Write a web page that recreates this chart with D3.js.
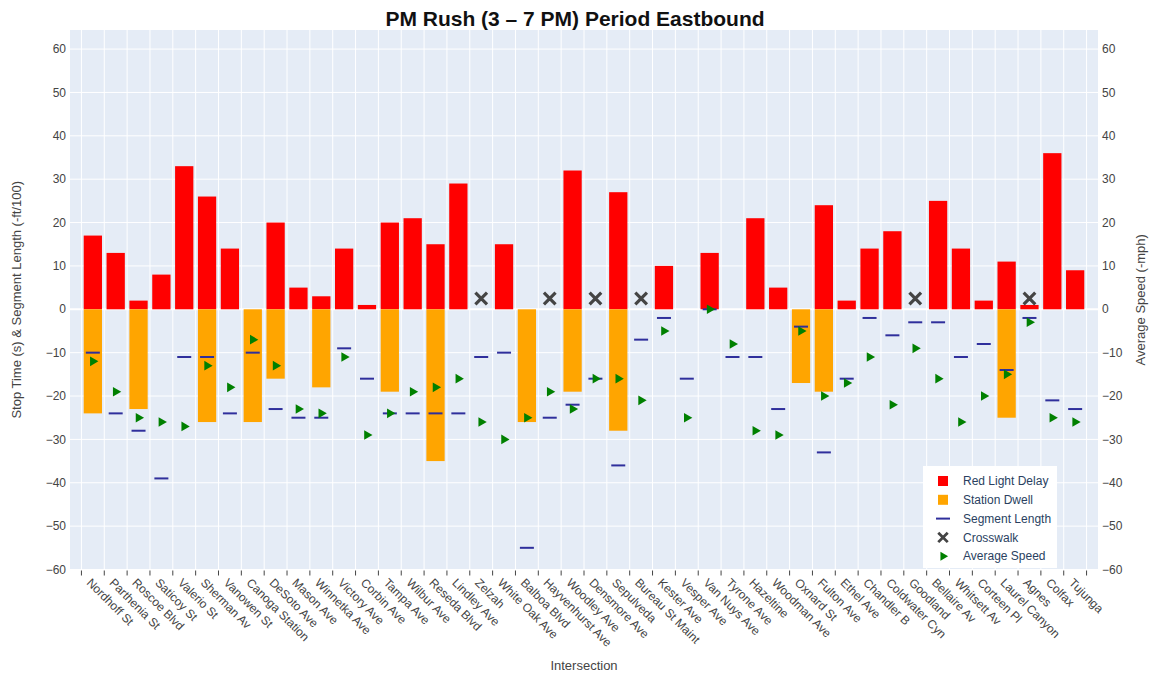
<!DOCTYPE html>
<html>
<head>
<meta charset="utf-8">
<script src="https://cdn.jsdelivr.net/npm/d3@7"></script>
<style>
  body { margin: 0; background: #fff; }
  svg { font-family: "Liberation Sans", Arial, sans-serif; }
</style>
</head>
<body>
<div id="chart"></div>
<script>
// data
const intersections = [
  "Nordhoff St", "Parthenia St", "Roscoe Blvd", "Saticoy St", "Valerio St",
  "Sherman Av", "Vanowen St", "Canoga Station", "DeSoto Ave", "Mason Ave",
  "Winnetka Ave", "Victory Ave", "Corbin Ave", "Tampa Ave", "Wilbur Ave",
  "Reseda Blvd", "Lindley Ave", "Zelzah", "White Oak Ave", "Balboa Blvd",
  "Hayvenhurst Ave", "Woodley Ave", "Densmore Ave", "Sepulveda", "Bureau St Maint",
  "Kester Ave", "Vesper Ave", "Van Nuys Ave", "Tyrone Ave", "Hazeltine",
  "Woodman Ave", "Oxnard St", "Fulton Ave", "Ethel Ave", "Chandler B",
  "Coldwater Cyn", "Goodland", "Bellaire Av", "Whitsett Av", "Corteen Pl",
  "Laurel Canyon", "Agnes", "Colfax", "Tujunga"
];

const redLightDelay = [
  17, 13, 2, 8, 33, 26, 14, 0, 20, 5,
  3, 14, 1, 20, 21, 15, 29, 0, 15, 0,
  0, 32, 0, 27, 0, 10, 0, 13, 0, 21,
  5, 0, 24, 2, 14, 18, 0, 25, 14, 2,
  11, 1, 36, 9
];

const stationDwell = [
  -24, 0, -23, 0, 0, -26, 0, -26, -16, 0,
  -18, 0, 0, -19, 0, -35, 0, 0, 0, -26,
  0, -19, 0, -28, 0, 0, 0, 0, 0, 0,
  0, -17, -19, 0, 0, 0, 0, 0, 0, 0,
  -25, 0, 0, 0
];

const segmentLength = [
  -10, -24, -28, -39, -11, -11, -24, -10, -23, -25,
  -25, -9, -16, -24, -24, -24, -24, -11, -10, -55,
  -25, -22, -16, -36, -7, -2, -16, 0, -11, -11,
  -23, -4, -33, -16, -2, -6, -3, -3, -11, -8,
  -14, -2, -21, -23
];

const averageSpeed = [
  -12, -19, -25, -26, -27, -13, -18, -7, -13, -23,
  -24, -11, -29, -24, -19, -18, -16, -26, -30, -25,
  -19, -23, -16, -16, -21, -5, -25, 0, -8, -28,
  -29, -5, -20, -17, -11, -22, -9, -16, -26, -20,
  -15, -3, -25, -26
];

const crosswalks = ["Zelzah", "Hayvenhurst Ave", "Densmore Ave", "Bureau St Maint", "Goodland", "Agnes"];
const crosswalkValue = 2.5;

const yTicks = [-60, -50, -40, -30, -20, -10, 0, 10, 20, 30, 40, 50, 60];

const W = 1153, H = 676;
const plot = { left: 70, right: 1098, top: 30, bottom: 569.5 };

const svg = d3.select("#chart").append("svg")
  .attr("width", W)
  .attr("height", H);

// x: one slot per intersection, half a slot of space on each end
const slot = (plot.right - plot.left) / (intersections.length + 1);
const x = d3.scaleBand()
  .domain(intersections)
  .range([plot.left + slot / 2, plot.right - slot / 2])
  .paddingInner(0.2)
  .paddingOuter(0.1);

const y = d3.scaleLinear()
  .domain([-60, 64.4])
  .range([plot.bottom, plot.top]);

// background
svg.append("rect")
  .attr("x", plot.left).attr("y", plot.top)
  .attr("width", plot.right - plot.left)
  .attr("height", plot.bottom - plot.top)
  .attr("fill", "#e5ecf6");

// grid
const bounds = d3.range(intersections.length + 1).map(i => x.range()[0] + i * x.step());
svg.append("g").selectAll("line")
  .data(bounds)
  .join("line")
    .attr("x1", d => d).attr("x2", d => d)
    .attr("y1", plot.top).attr("y2", plot.bottom)
    .attr("stroke", "#fff").attr("stroke-width", 1);

svg.append("g").selectAll("line")
  .data(yTicks)
  .join("line")
    .attr("x1", plot.left).attr("x2", plot.right)
    .attr("y1", d => y(d)).attr("y2", d => y(d))
    .attr("stroke", "#fff").attr("stroke-width", d => d === 0 ? 2 : 1);

// bars
const rows = intersections.map((name, i) => ({
  name,
  red: redLightDelay[i],
  dwell: stationDwell[i],
  seg: segmentLength[i],
  speed: averageSpeed[i]
}));

svg.append("g").selectAll("rect")
  .data(rows.filter(d => d.red > 0))
  .join("rect")
    .attr("x", d => x(d.name))
    .attr("width", x.bandwidth())
    .attr("y", d => y(d.red))
    .attr("height", d => y(0) - y(d.red))
    .attr("fill", "#ff0000");

svg.append("g").selectAll("rect")
  .data(rows.filter(d => d.dwell < 0))
  .join("rect")
    .attr("x", d => x(d.name))
    .attr("width", x.bandwidth())
    .attr("y", y(0))
    .attr("height", d => y(d.dwell) - y(0))
    .attr("fill", "#ffa500");

// segment length dashes
const segColor = "#2f2f9c";
svg.append("g").selectAll("line")
  .data(rows)
  .join("line")
    .attr("x1", d => x(d.name) + x.bandwidth() / 2 - 7)
    .attr("x2", d => x(d.name) + x.bandwidth() / 2 + 7)
    .attr("y1", d => y(d.seg)).attr("y2", d => y(d.seg))
    .attr("stroke", segColor).attr("stroke-width", 2);

// crosswalks
const xMark = d3.symbol().type(d3.symbolX).size(90);
svg.append("g").selectAll("path")
  .data(crosswalks)
  .join("path")
    .attr("d", xMark)
    .attr("transform", d => `translate(${x(d) + x.bandwidth() / 2},${y(crosswalkValue)})`)
    .attr("fill", "none")
    .attr("stroke", "#444")
    .attr("stroke-width", 3.2);

// average speed
const tri = d3.symbol().type(d3.symbolTriangle).size(40);
svg.append("g").selectAll("path")
  .data(rows)
  .join("path")
    .attr("d", tri)
    .attr("transform", d => `translate(${x(d.name) + x.bandwidth() / 2},${y(d.speed)}) rotate(90)`)
    .attr("fill", "#008000");

// axes text
const tickColor = "#444";
svg.append("g").selectAll("text")
  .data(yTicks)
  .join("text")
    .attr("x", plot.left - 4)
    .attr("y", d => y(d))
    .attr("dy", "0.35em")
    .attr("text-anchor", "end")
    .attr("font-size", 12)
    .attr("fill", tickColor)
    .text(d => d < 0 ? "\u2212" + Math.abs(d) : d);

svg.append("g").selectAll("text")
  .data(yTicks)
  .join("text")
    .attr("x", plot.right + 4)
    .attr("y", d => y(d))
    .attr("dy", "0.35em")
    .attr("text-anchor", "start")
    .attr("font-size", 12)
    .attr("fill", tickColor)
    .text(d => d < 0 ? "\u2212" + Math.abs(d) : d);

svg.append("g").selectAll("line")
  .data(bounds)
  .join("line")
    .attr("x1", d => d).attr("x2", d => d)
    .attr("y1", plot.bottom + 1).attr("y2", plot.bottom + 6)
    .attr("stroke", tickColor).attr("stroke-width", 1);

svg.append("g").selectAll("text")
  .data(intersections)
  .join("text")
    .attr("transform", d => `translate(${x(d) + x.bandwidth() / 2 - 1},${plot.bottom + 8}) rotate(45)`)
    .attr("dy", "0.7em")
    .attr("font-size", 12)
    .attr("fill", tickColor)
    .text(d => d);

svg.append("text")
  .attr("x", (plot.left + plot.right) / 2)
  .attr("y", 670)
  .attr("text-anchor", "middle")
  .attr("font-size", 13)
  .attr("fill", tickColor)
  .text("Intersection");

svg.append("text")
  .attr("transform", `translate(21,${(plot.top + plot.bottom) / 2}) rotate(-90)`)
  .attr("text-anchor", "middle")
  .attr("font-size", 13)
  .attr("fill", tickColor)
  .text("Stop Time (s) & Segment Length (-ft/100)");

svg.append("text")
  .attr("transform", `translate(1145,${(plot.top + plot.bottom) / 2}) rotate(-90)`)
  .attr("text-anchor", "middle")
  .attr("font-size", 13)
  .attr("fill", tickColor)
  .text("Average Speed (-mph)");

svg.append("text")
  .attr("x", 575)
  .attr("y", 26)
  .attr("text-anchor", "middle")
  .attr("font-size", 21)
  .attr("font-weight", "bold")
  .attr("fill", "#111")
  .text("PM Rush (3 \u2013 7 PM) Period Eastbound");

// legend
const legendItems = [
  { label: "Red Light Delay", kind: "square", color: "#ff0000" },
  { label: "Station Dwell", kind: "square", color: "#ffa500" },
  { label: "Segment Length", kind: "dash", color: segColor },
  { label: "Crosswalk", kind: "x", color: "#444" },
  { label: "Average Speed", kind: "tri", color: "#008000" }
];
const lg = svg.append("g").attr("transform", "translate(923,466)");
lg.append("rect")
  .attr("width", 134).attr("height", 102)
  .attr("fill", "#fff");
const li = lg.selectAll("g")
  .data(legendItems)
  .join("g")
    .attr("transform", (d, i) => `translate(20,${15 + i * 18.8})`);
li.filter(d => d.kind === "square").append("rect")
  .attr("x", -5).attr("y", -5).attr("width", 10).attr("height", 10)
  .attr("fill", d => d.color);
li.filter(d => d.kind === "dash").append("line")
  .attr("x1", -7).attr("x2", 7)
  .attr("stroke", d => d.color).attr("stroke-width", 2);
li.filter(d => d.kind === "x").append("path")
  .attr("d", d3.symbol().type(d3.symbolX).size(60))
  .attr("fill", "none").attr("stroke", d => d.color).attr("stroke-width", 2.8);
li.filter(d => d.kind === "tri").append("path")
  .attr("d", d3.symbol().type(d3.symbolTriangle).size(34))
  .attr("transform", "rotate(90)")
  .attr("fill", d => d.color);
li.append("text")
  .attr("x", 20)
  .attr("dy", "0.35em")
  .attr("font-size", 12)
  .attr("fill", "#2a3f5f")
  .text(d => d.label);
</script>
</body>
</html>
